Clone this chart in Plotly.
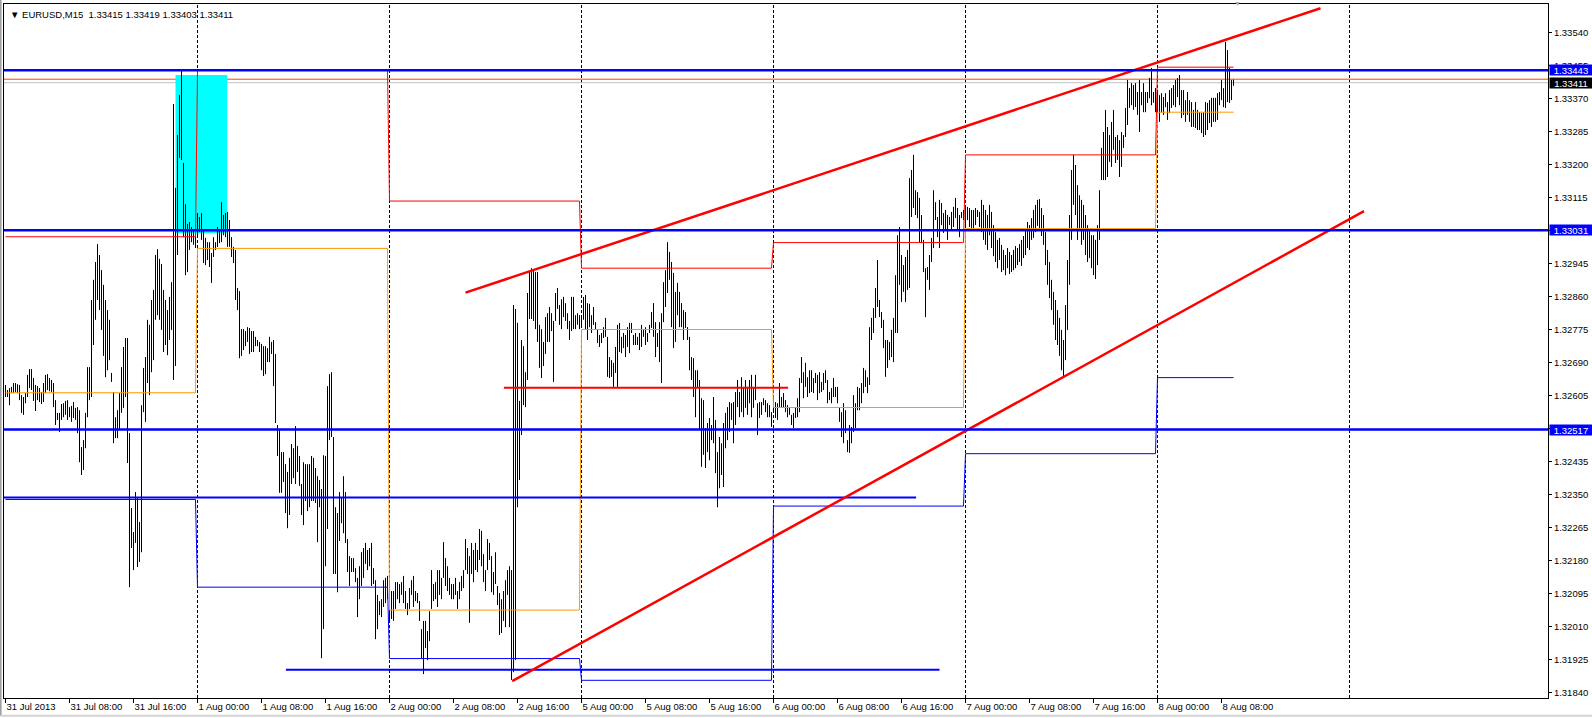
import plotly.graph_objects as go

title_text = "\u25bc EURUSD,M15\u00a0\u00a01.33415 1.33419 1.33403 1.33411"

# M15 bar highs / lows, 31 Jul 2013 00:00 -> 8 Aug 2013 09:30 (bar index = position)
highs = [
    1.32632, 1.32619, 1.32624, 1.32627, 1.32637, 1.32637, 1.32634, 1.32632, 1.32606, 1.32601,
    1.32611, 1.32658, 1.32673, 1.32673, 1.32650, 1.32632, 1.32629, 1.32624, 1.32614, 1.32637,
    1.32658, 1.32660, 1.32650, 1.32645, 1.32637, 1.32593, 1.32560, 1.32560, 1.32583, 1.32585,
    1.32591, 1.32593, 1.32575, 1.32578, 1.32588, 1.32573, 1.32575, 1.32567, 1.32472, 1.32490,
    1.32560, 1.32678, 1.32678, 1.32851, 1.32903, 1.32949, 1.32995, 1.32967, 1.32928, 1.32890,
    1.32851, 1.32825, 1.32800, 1.32663, 1.32614, 1.32549, 1.32567, 1.32611, 1.32678, 1.32730,
    1.32753, 1.32753, 1.32508, 1.32315, 1.32253, 1.32356, 1.32343, 1.32279, 1.32580, 1.32676,
    1.32704, 1.32800, 1.32787, 1.32851, 1.32877, 1.32967, 1.32982, 1.32957, 1.32944, 1.32877,
    1.32851, 1.32825, 1.32859, 1.32897, 1.33356, 1.33140, 1.33276, 1.33379, 1.33444, 1.33204,
    1.33098, 1.33047, 1.33052, 1.33039, 1.33031, 1.33026, 1.33075, 1.33065, 1.33075, 1.33031,
    1.33011, 1.33000, 1.33000, 1.32972, 1.33013, 1.33000, 1.33039, 1.33031, 1.33103, 1.33070,
    1.33075, 1.33078, 1.33057, 1.33013, 1.32988, 1.32980, 1.32882, 1.32874, 1.32776, 1.32776,
    1.32771, 1.32781, 1.32779, 1.32771, 1.32771, 1.32756, 1.32748, 1.32743, 1.32738, 1.32732,
    1.32732, 1.32727, 1.32756, 1.32743, 1.32748, 1.32712, 1.32529, 1.32518, 1.32459, 1.32459,
    1.32428, 1.32408, 1.32444, 1.32480, 1.32469, 1.32526, 1.32475, 1.32449, 1.32377, 1.32433,
    1.32428, 1.32428, 1.32428, 1.32449, 1.32444, 1.32418, 1.32397, 1.32387, 1.32364, 1.32451,
    1.32449, 1.32629, 1.32660, 1.32665, 1.32498, 1.32317, 1.32302, 1.32356, 1.32343, 1.32397,
    1.32356, 1.32235, 1.32191, 1.32186, 1.32186, 1.32160, 1.32135, 1.32165, 1.32201, 1.32212,
    1.32225, 1.32207, 1.32212, 1.32225, 1.32160, 1.32129, 1.32091, 1.32075, 1.32080, 1.32129,
    1.32135, 1.32140, 1.32124, 1.32101, 1.32101, 1.32124, 1.32124, 1.32119, 1.32124, 1.32140,
    1.32101, 1.32070, 1.32109, 1.32129, 1.32140, 1.32101, 1.32096, 1.32075, 1.32003, 1.32024,
    1.32024, 1.31998, 1.32049, 1.32155, 1.32119, 1.32124, 1.32155, 1.32155, 1.32135, 1.32227,
    1.32186, 1.32165, 1.32135, 1.32119, 1.32119, 1.32135, 1.32101, 1.32124, 1.32140, 1.32155,
    1.32235, 1.32212, 1.32191, 1.32225, 1.32207, 1.32225, 1.32207, 1.32261, 1.32256, 1.32196,
    1.32155, 1.32235, 1.32225, 1.32191, 1.32150, 1.32201, 1.32114, 1.32096, 1.32080, 1.32101,
    1.32129, 1.32155, 1.32165, 1.32155, 1.32838, 1.32828, 1.32792, 1.32591, 1.32748, 1.32732,
    1.32665, 1.32869, 1.32923, 1.32933, 1.32928, 1.32923, 1.32923, 1.32787, 1.32776, 1.32743,
    1.32807, 1.32817, 1.32833, 1.32817, 1.32797, 1.32869, 1.32882, 1.32838, 1.32853, 1.32859,
    1.32843, 1.32817, 1.32797, 1.32859, 1.32859, 1.32812, 1.32817, 1.32812, 1.32812, 1.32859,
    1.32864, 1.32843, 1.32841, 1.32812, 1.32833, 1.32794, 1.32774, 1.32761, 1.32766, 1.32781,
    1.32805, 1.32756, 1.32704, 1.32696, 1.32689, 1.32730, 1.32787, 1.32792, 1.32756, 1.32766,
    1.32761, 1.32781, 1.32792, 1.32792, 1.32761, 1.32766, 1.32756, 1.32766, 1.32787, 1.32774,
    1.32781, 1.32766, 1.32787, 1.32820, 1.32843, 1.32794, 1.32766, 1.32794, 1.32817, 1.32897,
    1.32928, 1.33000, 1.32975, 1.32949, 1.32921, 1.32872, 1.32895, 1.32872, 1.32843, 1.32825,
    1.32820, 1.32781, 1.32756, 1.32704, 1.32701, 1.32670, 1.32670, 1.32645, 1.32598, 1.32593,
    1.32521, 1.32534, 1.32547, 1.32529, 1.32601, 1.32542, 1.32459, 1.32498, 1.32482, 1.32534,
    1.32560, 1.32575, 1.32588, 1.32585, 1.32588, 1.32614, 1.32645, 1.32614, 1.32652, 1.32624,
    1.32645, 1.32627, 1.32645, 1.32658, 1.32624, 1.32658, 1.32585, 1.32588, 1.32588, 1.32598,
    1.32593, 1.32585, 1.32580, 1.32562, 1.32601, 1.32588, 1.32585, 1.32637, 1.32601, 1.32611,
    1.32593, 1.32580, 1.32575, 1.32555, 1.32560, 1.32573, 1.32598, 1.32650, 1.32704, 1.32665,
    1.32689, 1.32652, 1.32670, 1.32670, 1.32650, 1.32663, 1.32658, 1.32665, 1.32640, 1.32663,
    1.32670, 1.32645, 1.32614, 1.32624, 1.32650, 1.32627, 1.32627, 1.32575, 1.32562, 1.32585,
    1.32567, 1.32490, 1.32529, 1.32524, 1.32606, 1.32585, 1.32627, 1.32624, 1.32637, 1.32676,
    1.32670, 1.32652, 1.32781, 1.32805, 1.32830, 1.32882, 1.32954, 1.32851, 1.32820, 1.32800,
    1.32748, 1.32748, 1.32743, 1.32774, 1.32805, 1.32915, 1.33018, 1.33039, 1.32967, 1.32941,
    1.32962, 1.32980, 1.33165, 1.33186, 1.33225, 1.33134, 1.33129, 1.33114, 1.33070, 1.33006,
    1.32933, 1.32936, 1.32967, 1.33011, 1.33134, 1.33103, 1.33065, 1.33109, 1.33101, 1.33075,
    1.33083, 1.33070, 1.33065, 1.33078, 1.33091, 1.33114, 1.33088, 1.33070, 1.33078, 1.33083,
    1.33096, 1.33091, 1.33088, 1.33083, 1.33083, 1.33088, 1.33083, 1.33078, 1.33109, 1.33096,
    1.33083, 1.33070, 1.33096, 1.33078, 1.33044, 1.33026, 1.33006, 1.33011, 1.32993, 1.32980,
    1.32967, 1.32985, 1.32975, 1.32967, 1.32980, 1.32990, 1.32985, 1.32995, 1.33006, 1.33016,
    1.33031, 1.33052, 1.33044, 1.33062, 1.33083, 1.33096, 1.33109, 1.33111, 1.33088, 1.33070,
    1.33026, 1.32980, 1.32949, 1.32903, 1.32872, 1.32851, 1.32825, 1.32805, 1.32774, 1.32748,
    1.32838, 1.32954, 1.33070, 1.33186, 1.33225, 1.33199, 1.33147, 1.33121, 1.33109, 1.33096,
    1.33070, 1.33044, 1.33031, 1.33018, 1.33018, 1.33006, 1.33044, 1.33134, 1.33243, 1.33284,
    1.33341, 1.33297, 1.33276, 1.33310, 1.33341, 1.33271, 1.33276, 1.33263, 1.33284, 1.33276,
    1.33346, 1.33418, 1.33397, 1.33410, 1.33405, 1.33410, 1.33387, 1.33418, 1.33387, 1.33410,
    1.33387, 1.33387, 1.33423, 1.33449, 1.33387, 1.33397, 1.33392, 1.33379, 1.33384, 1.33374,
    1.33384, 1.33361, 1.33392, 1.33397, 1.33405, 1.33418, 1.33423, 1.33431, 1.33392, 1.33392,
    1.33366, 1.33387, 1.33366, 1.33361, 1.33341, 1.33361, 1.33341, 1.33335, 1.33333, 1.33335,
    1.33361, 1.33359, 1.33366, 1.33372, 1.33372, 1.33372, 1.33384, 1.33387, 1.33418, 1.33397,
    1.33516, 1.33495, 1.33449, 1.33418, 1.33419,
]
lows = [
    1.32601, 1.32601, 1.32580, 1.32611, 1.32611, 1.32614, 1.32611, 1.32593, 1.32560, 1.32555,
    1.32585, 1.32601, 1.32624, 1.32619, 1.32591, 1.32565, 1.32593, 1.32588, 1.32583, 1.32588,
    1.32611, 1.32619, 1.32616, 1.32614, 1.32575, 1.32529, 1.32542, 1.32511, 1.32542, 1.32549,
    1.32555, 1.32542, 1.32549, 1.32537, 1.32547, 1.32542, 1.32508, 1.32433, 1.32400, 1.32413,
    1.32469, 1.32549, 1.32593, 1.32601, 1.32735, 1.32800, 1.32851, 1.32825, 1.32774, 1.32707,
    1.32652, 1.32670, 1.32696, 1.32640, 1.32482, 1.32495, 1.32495, 1.32516, 1.32560, 1.32573,
    1.32601, 1.32431, 1.32111, 1.32212, 1.32155, 1.32225, 1.32163, 1.32176, 1.32201, 1.32562,
    1.32537, 1.32637, 1.32606, 1.32665, 1.32696, 1.32800, 1.32812, 1.32800, 1.32774, 1.32717,
    1.32735, 1.32709, 1.32748, 1.32774, 1.32645, 1.32681, 1.32967, 1.33217, 1.33212, 1.33013,
    1.32915, 1.32923, 1.32980, 1.33000, 1.32993, 1.32985, 1.33013, 1.33026, 1.33006, 1.32946,
    1.32941, 1.32954, 1.32936, 1.32895, 1.32962, 1.32980, 1.32988, 1.32998, 1.33000, 1.33018,
    1.33013, 1.32988, 1.32988, 1.32962, 1.32946, 1.32851, 1.32825, 1.32701, 1.32707, 1.32722,
    1.32732, 1.32743, 1.32712, 1.32717, 1.32717, 1.32732, 1.32732, 1.32717, 1.32670, 1.32655,
    1.32660, 1.32691, 1.32691, 1.32712, 1.32629, 1.32534, 1.32449, 1.32354, 1.32354, 1.32382,
    1.32302, 1.32263, 1.32297, 1.32377, 1.32392, 1.32377, 1.32408, 1.32372, 1.32297, 1.32271,
    1.32333, 1.32307, 1.32317, 1.32333, 1.32333, 1.32328, 1.32227, 1.32317, 1.31928, 1.32003,
    1.32165, 1.32261, 1.32490, 1.32498, 1.32145, 1.32145, 1.32098, 1.32230, 1.32276, 1.32250,
    1.32225, 1.32150, 1.32114, 1.32150, 1.32150, 1.32124, 1.32034, 1.32080, 1.32114, 1.32135,
    1.32171, 1.32155, 1.32165, 1.32114, 1.32119, 1.31977, 1.32003, 1.32039, 1.32034, 1.32060,
    1.32070, 1.32080, 1.32024, 1.32029, 1.32024, 1.32055, 1.32080, 1.32070, 1.32091, 1.32070,
    1.32055, 1.32039, 1.32055, 1.32091, 1.32060, 1.32075, 1.32070, 1.32024, 1.31928, 1.31887,
    1.31954, 1.31923, 1.31972, 1.32055, 1.32075, 1.32080, 1.32060, 1.32091, 1.32080, 1.32135,
    1.32114, 1.32101, 1.32091, 1.32080, 1.32080, 1.32091, 1.32055, 1.32080, 1.32101, 1.32109,
    1.32155, 1.32145, 1.32019, 1.32145, 1.32124, 1.32155, 1.32150, 1.32181, 1.32165, 1.32124,
    1.32101, 1.32155, 1.32181, 1.32098, 1.32091, 1.32119, 1.32065, 1.31988, 1.31993, 1.32024,
    1.32008, 1.32091, 1.32008, 1.31872, 1.31892, 1.31923, 1.32317, 1.32387, 1.32503, 1.32580,
    1.32575, 1.32645, 1.32802, 1.32802, 1.32797, 1.32776, 1.32743, 1.32676, 1.32650, 1.32681,
    1.32712, 1.32743, 1.32743, 1.32771, 1.32640, 1.32797, 1.32828, 1.32787, 1.32776, 1.32807,
    1.32797, 1.32776, 1.32748, 1.32771, 1.32776, 1.32776, 1.32787, 1.32776, 1.32779, 1.32800,
    1.32774, 1.32748, 1.32781, 1.32766, 1.32787, 1.32774, 1.32740, 1.32730, 1.32740, 1.32753,
    1.32756, 1.32653, 1.32650, 1.32653, 1.32627, 1.32663, 1.32627, 1.32717, 1.32714, 1.32727,
    1.32704, 1.32730, 1.32714, 1.32766, 1.32735, 1.32735, 1.32735, 1.32722, 1.32730, 1.32756,
    1.32735, 1.32743, 1.32766, 1.32779, 1.32756, 1.32704, 1.32730, 1.32691, 1.32637, 1.32794,
    1.32833, 1.32869, 1.32903, 1.32781, 1.32727, 1.32743, 1.32812, 1.32781, 1.32781, 1.32748,
    1.32779, 1.32748, 1.32670, 1.32645, 1.32601, 1.32549, 1.32624, 1.32516, 1.32421, 1.32452,
    1.32418, 1.32459, 1.32438, 1.32490, 1.32482, 1.32405, 1.32317, 1.32366, 1.32400, 1.32369,
    1.32469, 1.32490, 1.32511, 1.32542, 1.32482, 1.32529, 1.32575, 1.32549, 1.32562, 1.32549,
    1.32573, 1.32555, 1.32585, 1.32549, 1.32573, 1.32593, 1.32503, 1.32547, 1.32555, 1.32580,
    1.32562, 1.32549, 1.32549, 1.32524, 1.32560, 1.32547, 1.32542, 1.32575, 1.32573, 1.32575,
    1.32562, 1.32549, 1.32555, 1.32529, 1.32521, 1.32547, 1.32549, 1.32562, 1.32637, 1.32598,
    1.32627, 1.32601, 1.32611, 1.32614, 1.32611, 1.32637, 1.32593, 1.32611, 1.32614, 1.32619,
    1.32637, 1.32585, 1.32593, 1.32585, 1.32601, 1.32601, 1.32585, 1.32537, 1.32498, 1.32482,
    1.32508, 1.32459, 1.32457, 1.32482, 1.32511, 1.32521, 1.32567, 1.32567, 1.32585, 1.32611,
    1.32627, 1.32611, 1.32632, 1.32748, 1.32766, 1.32805, 1.32833, 1.32807, 1.32779, 1.32727,
    1.32653, 1.32676, 1.32696, 1.32704, 1.32691, 1.32766, 1.32766, 1.32890, 1.32846, 1.32872,
    1.32846, 1.32877, 1.32882, 1.33065, 1.33088, 1.33070, 1.33062, 1.33000, 1.32998, 1.32923,
    1.32807, 1.32903, 1.32877, 1.32949, 1.32985, 1.33057, 1.33013, 1.32985, 1.33044, 1.33024,
    1.33031, 1.33006, 1.33044, 1.33031, 1.33039, 1.33062, 1.33031, 1.33013, 1.33062, 1.33057,
    1.33044, 1.33057, 1.33039, 1.33036, 1.33036, 1.33044, 1.33065, 1.33039, 1.33026, 1.33006,
    1.32993, 1.32980, 1.33018, 1.32985, 1.32964, 1.32949, 1.32933, 1.32954, 1.32923, 1.32928,
    1.32915, 1.32933, 1.32918, 1.32923, 1.32928, 1.32933, 1.32941, 1.32949, 1.32939, 1.32959,
    1.32967, 1.32985, 1.32980, 1.33006, 1.33011, 1.33026, 1.33042, 1.33036, 1.33016, 1.32993,
    1.32941, 1.32890, 1.32856, 1.32825, 1.32787, 1.32748, 1.32735, 1.32707, 1.32670, 1.32650,
    1.32696, 1.32774, 1.32890, 1.33006, 1.33096, 1.33070, 1.33006, 1.33031, 1.32993, 1.33006,
    1.32967, 1.32949, 1.32959, 1.32933, 1.32915, 1.32905, 1.32941, 1.33006, 1.33160, 1.33160,
    1.33160, 1.33168, 1.33207, 1.33194, 1.33238, 1.33204, 1.33212, 1.33168, 1.33194, 1.33243,
    1.33271, 1.33302, 1.33346, 1.33353, 1.33341, 1.33348, 1.33328, 1.33284, 1.33353, 1.33335,
    1.33335, 1.33359, 1.33371, 1.33353, 1.33359, 1.33335, 1.33333, 1.33310, 1.33335, 1.33328,
    1.33348, 1.33315, 1.33333, 1.33346, 1.33353, 1.33348, 1.33374, 1.33353, 1.33320, 1.33328,
    1.33310, 1.33328, 1.33310, 1.33297, 1.33297, 1.33294, 1.33289, 1.33289, 1.33281, 1.33271,
    1.33276, 1.33289, 1.33307, 1.33297, 1.33310, 1.33310, 1.33315, 1.33353, 1.33366, 1.33348,
    1.33346, 1.33361, 1.33359, 1.33366, 1.33403,
]

# daily reference levels (previous day's high / close / low), one value per trading day
day_start_bars = [0, 96, 192, 288, 384, 480, 576]
prev_day_high = [1.33014, 1.33443, 1.33106, 1.32933, 1.32999, 1.33225, 1.33451]
prev_day_close = [1.32612, 1.32984, 1.32052, 1.32775, 1.32574, 1.33035, 1.33335]
prev_day_low = [1.32337, 1.32111, 1.31927, 1.31871, 1.32320, 1.32455, 1.32651]

separator_bars = [96, 192, 288, 384, 480, 576, 672]

x_tick_bars = [0, 32, 64, 96, 128, 160, 192, 224, 256, 288, 320, 352,
               384, 416, 448, 480, 512, 544, 576, 608]
x_tick_labels = ["31 Jul 2013", "31 Jul 08:00", "31 Jul 16:00", "1 Aug 00:00", "1 Aug 08:00",
                 "1 Aug 16:00", "2 Aug 00:00", "2 Aug 08:00", "2 Aug 16:00", "5 Aug 00:00",
                 "5 Aug 08:00", "5 Aug 16:00", "6 Aug 00:00", "6 Aug 08:00", "6 Aug 16:00",
                 "7 Aug 00:00", "7 Aug 08:00", "7 Aug 16:00", "8 Aug 00:00", "8 Aug 08:00"]
y_tick_values = [1.31840, 1.31925, 1.32010, 1.32095, 1.32180, 1.32265, 1.32350, 1.32435,
                 1.32520, 1.32605, 1.32690, 1.32775, 1.32860, 1.32945, 1.33030, 1.33115,
                 1.33200, 1.33285, 1.33370, 1.33455, 1.33540]

level_lines = [1.33443, 1.33031, 1.32517]
bid_price = 1.33411
ask_price = 1.33420

blue_seg_a_bars = [-0.75, 455.3]
blue_seg_a_price = 1.32342
blue_seg_b_bars = [140.2, 467.0]
blue_seg_b_price = 1.31898
red_seg_bars = [249.2, 391.3]
red_seg_price = 1.32625
upper_trend_bars = [230.0, 657.5]
upper_trend_prices = [1.32870, 1.33603]
lower_trend_bars = [253.35, 679.25]
lower_trend_prices = [1.31869, 1.33080]
zone_bars = [85.0, 110.85]
zone_prices = [1.33024, 1.33431]

FONT = "Liberation Sans, Arial, sans-serif"
BLUE = "#0000FF"

fig = go.Figure()

# OHLC bars drawn as vertical high-low strokes
bx, by = [], []
for i, (h, l) in enumerate(zip(highs, lows)):
    bx += [i, i, None]
    by += [l, h, None]
fig.add_trace(go.Scatter(x=bx, y=by, mode="lines", line=dict(color="black", width=1),
                         hoverinfo="skip", showlegend=False))

last_bar = len(highs) - 1


def step_xy(values):
    xs, ys = [], []
    for d, v in enumerate(values):
        s = day_start_bars[d]
        e = day_start_bars[d + 1] - 1 if d + 1 < len(day_start_bars) else last_bar
        xs += [s, e]
        ys += [v, v]
    return xs, ys


for vals, col in [(prev_day_close, "#FF9900"), (prev_day_low, BLUE), (prev_day_high, "#FF0000")]:
    sx, sy = step_xy(vals)
    fig.add_trace(go.Scatter(x=sx, y=sy, mode="lines", line=dict(color=col, width=1),
                             hoverinfo="skip", showlegend=False))

# drawn objects
fig.add_trace(go.Scatter(x=blue_seg_a_bars, y=[blue_seg_a_price] * 2, mode="lines",
                         line=dict(color=BLUE, width=2), hoverinfo="skip", showlegend=False))
fig.add_trace(go.Scatter(x=blue_seg_b_bars, y=[blue_seg_b_price] * 2, mode="lines",
                         line=dict(color=BLUE, width=2), hoverinfo="skip", showlegend=False))
fig.add_trace(go.Scatter(x=red_seg_bars, y=[red_seg_price] * 2, mode="lines",
                         line=dict(color="#FF0000", width=2), hoverinfo="skip", showlegend=False))
fig.add_trace(go.Scatter(x=upper_trend_bars, y=upper_trend_prices, mode="lines",
                         line=dict(color="#FF0000", width=2.5), hoverinfo="skip", showlegend=False))
fig.add_trace(go.Scatter(x=lower_trend_bars, y=lower_trend_prices, mode="lines",
                         line=dict(color="#FF0000", width=2.5), hoverinfo="skip", showlegend=False))

shapes = []
shapes.append(dict(type="rect", xref="x", yref="y", x0=zone_bars[0], x1=zone_bars[1],
                   y0=zone_prices[0], y1=zone_prices[1], fillcolor="#00FFFF",
                   line=dict(width=0), layer="below"))
for sb in separator_bars:
    shapes.append(dict(type="line", xref="x", yref="paper", x0=sb, x1=sb, y0=0, y1=1,
                       line=dict(color="black", width=1, dash="3px,2px"), layer="below"))
shapes.append(dict(type="line", xref="paper", yref="y", x0=0, x1=1, y0=bid_price, y1=bid_price,
                   line=dict(color="#C0C0C0", width=1), layer="below"))
shapes.append(dict(type="line", xref="paper", yref="y", x0=0, x1=1, y0=ask_price, y1=ask_price,
                   line=dict(color="#FF4500", width=1), layer="below"))
for lv in level_lines:
    shapes.append(dict(type="line", xref="paper", yref="y", x0=0, x1=1, y0=lv, y1=lv,
                       line=dict(color=BLUE, width=2.5), layer="above"))
# window border
shapes.append(dict(type="line", xref="paper", yref="paper", x0=-0.0022, x1=-0.0022, y0=-0.026, y1=1.006,
                   line=dict(color="#A0A0A0", width=2)))
shapes.append(dict(type="line", xref="paper", yref="paper", x0=-0.0022, x1=1.03, y0=-0.0255, y1=-0.0255,
                   line=dict(color="#D4D4D4", width=2)))

annotations = [
    dict(xref="paper", yref="paper", x=0, y=1, xanchor="left", yanchor="top", xshift=4, yshift=-3,
         text=title_text, showarrow=False, font=dict(family=FONT, size=9.5, color="black")),
    dict(xref="x", yref="paper", x=616, y=1, xanchor="center", yanchor="middle", yshift=1,
         text="\u25bc", showarrow=False, font=dict(family=FONT, size=7, color="#B0B0B0")),
]
right_labels = [(1.33443, BLUE), (1.33411, "#000000"), (1.33031, BLUE), (1.32517, BLUE)]
for price, col in right_labels:
    annotations.append(dict(xref="paper", yref="y", x=1, y=price, xanchor="left", yanchor="middle",
                            xshift=1, text=f"{price:.5f}", showarrow=False, bgcolor=col,
                            width=42, height=10, borderpad=0, align="center",
                            font=dict(family=FONT, size=9.5, color="white")))

fig.update_layout(
    width=1592, height=718,
    margin=dict(l=4, r=44, t=4, b=20),
    paper_bgcolor="white", plot_bgcolor="white",
    showlegend=False,
    shapes=shapes, annotations=annotations,
    font=dict(family=FONT, size=9.5, color="black"),
    xaxis=dict(range=[-0.75, 771.25], tickvals=x_tick_bars, ticktext=x_tick_labels,
               ticks="outside", ticklen=4, tickcolor="black", tickwidth=1,
               ticklabelposition="outside right",
               showline=True, mirror=True, linecolor="black", linewidth=1,
               showgrid=False, zeroline=False, tickfont=dict(family=FONT, size=9.5, color="black")),
    yaxis=dict(range=[1.318254, 1.336138], side="right", tickvals=y_tick_values, tickformat=".5f",
               ticks="outside", ticklen=3, tickcolor="black", tickwidth=1,
               showline=True, mirror=True, linecolor="black", linewidth=1,
               showgrid=False, zeroline=False, tickfont=dict(family=FONT, size=9.5, color="black")),
)

fig.write_html("out.html", config={"displayModeBar": False},
               post_script="document.body.style.margin='0px';")
